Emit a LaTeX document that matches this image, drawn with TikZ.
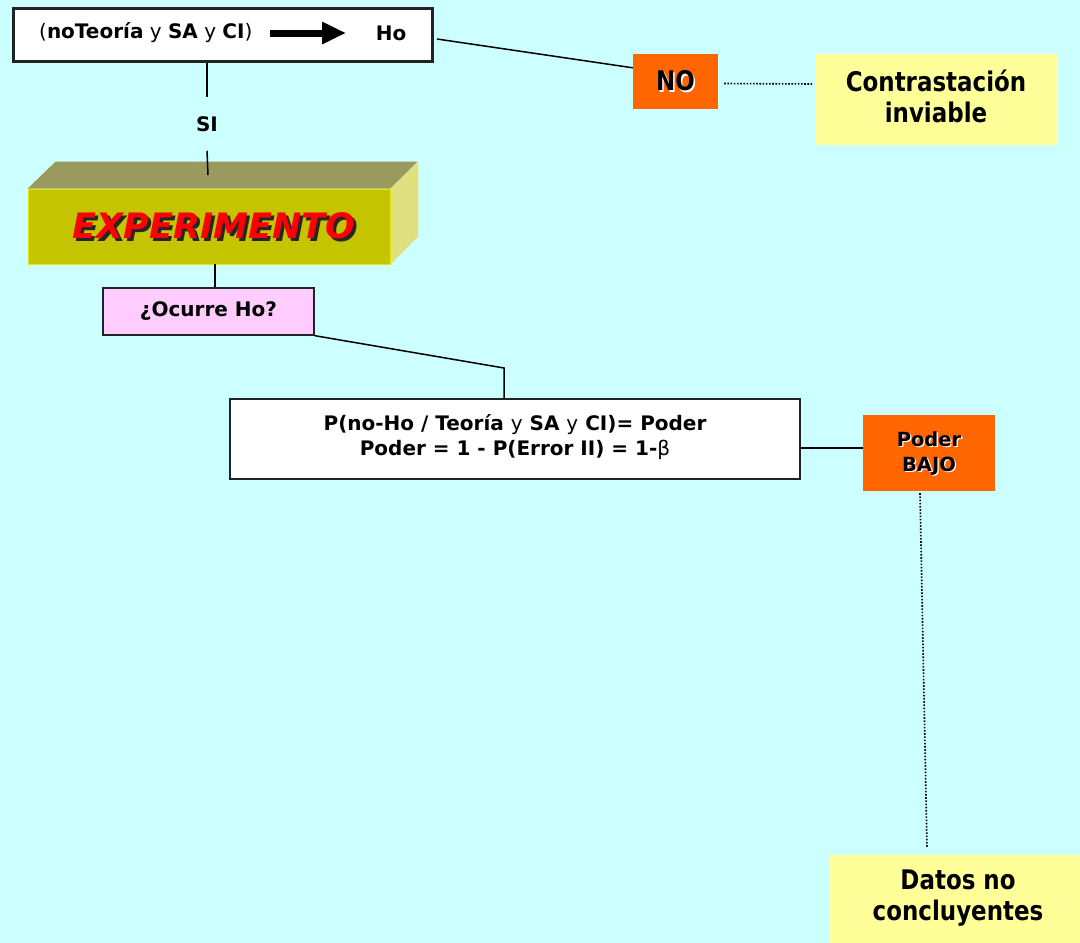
\documentclass[tikz,border=0pt]{standalone}
\usepackage{fontspec}
\setmainfont{DejaVu Sans}
\newfontfamily\narrowfont{DejaVu Sans}[FakeStretch=0.85]
\usetikzlibrary{arrows.meta,calc}

\definecolor{bgcyan}{HTML}{CCFFFF}
\definecolor{orangebox}{HTML}{FF6600}
\definecolor{paleyellow}{HTML}{FFFF99}
\definecolor{pinkbox}{HTML}{FFCCFF}
\definecolor{olivefront}{HTML}{C4C400}
\definecolor{olivetop}{HTML}{9A9A5E}
\definecolor{oliveside}{HTML}{E0E080}
\definecolor{oliveedge}{HTML}{E6E600}
\definecolor{framegray}{HTML}{222222}

% text with an offset copy behind it (drop shadow / light halo)
\newcommand{\shadowed}[4]{%
  \makebox[0pt][l]{\hspace*{#2}\raisebox{-#3}{\color{#1}#4}}#4}

\begin{document}
\begin{tikzpicture}[x=1pt,y=-1pt,
  txt/.style={font=\fontsize{20}{25}\selectfont\bfseries, inner sep=0pt},
  bigtxt/.style={font=\narrowfont\fontsize{27}{31}\selectfont\bfseries, inner sep=0pt, align=center},
  framebox/.style={draw=framegray, line width=1.3pt, fill=white, inner sep=0pt},
  orangebox/.style={fill=orangebox, inner sep=0pt},
  notebox/.style={fill=paleyellow, inner sep=0pt},
  link/.style={draw=black, line width=1.5pt},
  dotlink/.style={draw=black, line width=1.6pt, dash pattern=on 1.6pt off 1.6pt}
]
% canvas
\fill[bgcyan] (0,0) rectangle (1080,943);
\useasboundingbox (0,0) rectangle (1080,943);

% premise box with the implication arrow
\node[framebox, line width=3pt, minimum width=419pt, minimum height=53pt] (top) at (223,35) {};
\node[txt, anchor=west, font=\fontsize{20}{25}\selectfont] (premise) at (39,33)
  {(\textbf{noTeoría} y \textbf{SA} y \textbf{CI})};
\coordinate (arrS) at (270,33);
\coordinate (arrE) at (346,33);
\draw[line width=7pt, -{Triangle[length=24pt,width=21pt]}] (arrS) -- (arrE);
\node[txt] (ho) at (391,33) {Ho};

% SI branch
\node[txt, inner ysep=19pt] (si) at (207,124) {SI};
\draw[link] (top.south -| si.north) -- (si.north);
\coordinate (expHit) at (208,175);

% NO branch
\node[orangebox, minimum width=85pt, minimum height=55pt] (no) at (675.5,81.5) {};
\node[bigtxt] (noTxt) at (675.5,81.5) {\shadowed{white}{1.5pt}{1.5pt}{NO}};
\node[notebox, minimum width=242pt, minimum height=91pt] (contr) at (936,99.5) {};
\node[bigtxt] (contrTxt) at (936,96) {Contrastación\\inviable};
\draw[link] ($(top.east)+(3,4)$) -- ($(no.north west)+(0,14)$);
\draw[dotlink] ($(no.east)+(6,2)$) -- ($(contr.west)+(-2,-15.5)$);

% EXPERIMENTO block
\node[fill=olivefront, draw=oliveedge, line width=0.8pt, minimum width=362pt, minimum height=75pt, inner sep=0pt] (exp) at (209,226.5) {};
\fill[olivetop] (exp.north west) -- ++(28,-27) -- ++(362,0) -- (exp.north east) -- cycle;
\fill[oliveside] (exp.north east) -- ++(28,-27) -- ++(0,75) -- (exp.south east) -- cycle;
\draw[oliveedge, line width=1pt] (exp.north east) -- (exp.south east);
\draw[link] (si.south) -- (expHit);
\node[font=\fontsize{35}{40}\selectfont\bfseries\itshape, text=red, inner sep=0pt] (expTxt) at (214,227)
  {\shadowed{black!85}{3pt}{3pt}{EXPERIMENTO}};

% question box
\node[framebox, fill=pinkbox, minimum width=211pt, minimum height=47pt] (ocurre) at (208.5,311.5) {};
\node[txt] (ocurreTxt) at (208.5,311) {¿Ocurre Ho?};
\coordinate (xcol) at (215,0);
\draw[link] (exp.south -| xcol) -- (ocurre.north -| xcol);

% power box
\node[framebox, minimum width=570pt, minimum height=80pt] (big) at (515,439) {};
\node[txt, align=center] (bigTxt) at (515,437)
  {P(no-Ho / Teoría {\mdseries y} SA {\mdseries y} CI)= Poder\\Poder = 1 - P(Error II) = 1-{\mdseries β}};
\coordinate (bend) at (504,368);
\draw[link] (ocurre.south east) -- (bend) -- (bend |- big.north);

% low power outcome
\node[orangebox, minimum width=132pt, minimum height=76pt] (poder) at (929,453) {};
\node[txt, align=center, font=\fontsize{19.5}{25}\selectfont\bfseries] (poderTxt) at (929,454)
  {\shadowed{white}{1.3pt}{1.3pt}{Poder}\\\shadowed{white}{1.3pt}{1.3pt}{BAJO}};
\draw[link] ($(big.east)+(0,9)$) -- ($(poder.west)+(0,-5)$);

\node[notebox, minimum width=250pt, minimum height=88pt] (datos) at (955,899) {};
\node[bigtxt] (datosTxt) at (958,898) {Datos no\\concluyentes};
\draw[dotlink] ($(poder.south)+(-9,2)$) -- ($(datos.north)+(-28,-7)$);
\end{tikzpicture}
\end{document}
